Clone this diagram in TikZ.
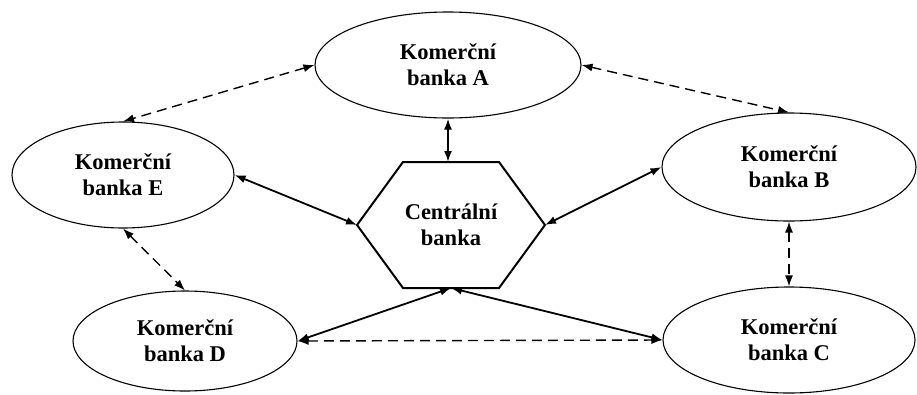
\documentclass[tikz,border=0pt]{standalone}
\usepackage{fontspec}
\setmainfont{Liberation Serif}
\usetikzlibrary{arrows.meta, shapes.geometric, positioning, calc}

\begin{document}
\begin{tikzpicture}[x=1pt,y=-1pt,
    bank/.style={draw,ellipse,line width=1.1pt,inner sep=0pt,align=center,
                 font=\bfseries\fontsize{22.5}{26}\selectfont},
    hexbox/.style={rectangle,inner sep=0pt,outer sep=0pt,align=center,
                   minimum width=188pt,minimum height=126pt,
                   font=\bfseries\fontsize{22.5}{26}\selectfont},
    hexline/.style={line width=2pt,line join=miter},
    arr/.style={{Latex[length=11pt,width=8pt]}-{Latex[length=11pt,width=8pt]},line width=1.8pt},
    darr/.style={{Latex[length=11pt,width=8pt]}-{Latex[length=11pt,width=8pt]},line width=1.4pt,
                 dash pattern=on 10pt off 6pt}
  ]
    \useasboundingbox (0,0) rectangle (917,394);
    % banks
    \node[bank,minimum width=266pt,minimum height=106pt] (A) at (448,65) {Komerční\\banka A};
    \node[bank,minimum width=254pt,minimum height=108pt] (B) at (789,167) {Komerční\\banka B};
    \node[bank,minimum width=252pt,minimum height=106pt] (C) at (789,340) {Komerční\\banka C};
    \node[bank,minimum width=224pt,minimum height=100pt] (D) at (185,341) {Komerční\\banka D};
    \node[bank,minimum width=222pt,minimum height=106pt] (E) at (123,175) {Komerční\\banka E};
    % central bank
    \node[hexbox] (cb) at (451,225) {Centrální\\banka};
    \draw[hexline] ($(cb.north west)+(46,0)$) -- ($(cb.north east)+(-46,0)$) -- (cb.east)
      -- ($(cb.south east)+(-46,0)$) -- ($(cb.south west)+(46,0)$) -- (cb.west) -- cycle;
    % solid links
    \draw[arr] (A.south) -- (A.south |- cb.north);
    \draw[arr] (E.east) -- (cb.west);
    \draw[arr] (B.west) -- (cb.east);
    \draw[arr] (D.east) -- (cb.south);
    \draw[arr] (C.west) -- (cb.south);
    % dashed links
    \draw[darr] (A.west) -- (E.north);
    \draw[darr] (A.east) -- (B.north);
    \draw[darr] (E.south) -- (D.north);
    \draw[darr] (B.south) -- (C.north);
    \draw[darr] (D.east) -- (C.west);
  \end{tikzpicture}
\end{document}
